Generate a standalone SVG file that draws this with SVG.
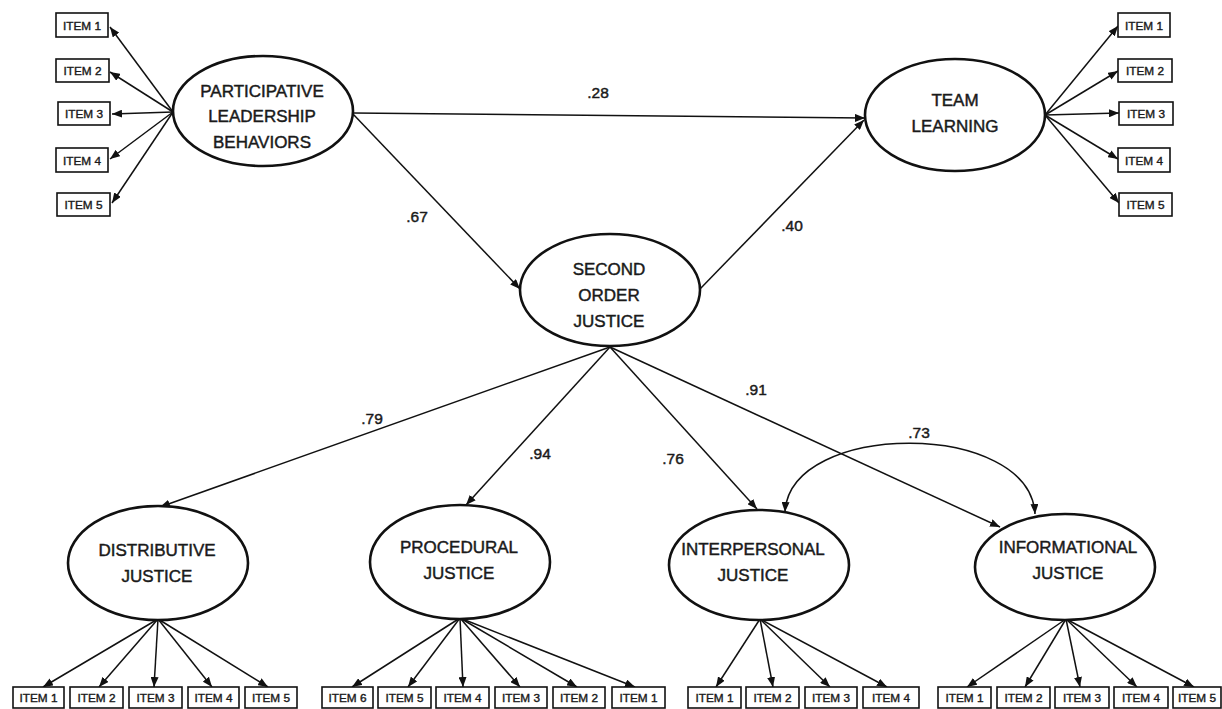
<svg xmlns="http://www.w3.org/2000/svg" width="1222" height="709" viewBox="0 0 1222 709">
<defs>
<marker id="ah" markerWidth="10" markerHeight="8" refX="10" refY="4" orient="auto" markerUnits="userSpaceOnUse"><path d="M0,0 L10,4 L0,8 z" fill="#111"/></marker>
<marker id="ah2" markerWidth="10" markerHeight="8" refX="10" refY="4" orient="auto-start-reverse" markerUnits="userSpaceOnUse"><path d="M0,0 L10,4 L0,8 z" fill="#111"/></marker>
</defs>
<style>
.lat{fill:#fff;stroke:#111;stroke-width:2.6}
.box{fill:#fff;stroke:#111;stroke-width:1.6}
.t{font-family:"Liberation Sans",Arial,sans-serif;font-size:17px;fill:#1a1a1a;stroke:#1a1a1a;stroke-width:0.45;text-anchor:middle}
.it{font-family:"Liberation Sans",Arial,sans-serif;font-size:11.8px;fill:#1a1a1a;stroke:#1a1a1a;stroke-width:0.4;text-anchor:middle}
.lb{font-family:"Liberation Sans",Arial,sans-serif;font-size:15.5px;fill:#1a1a1a;stroke:#1a1a1a;stroke-width:0.45;text-anchor:middle}
.c{fill:none;stroke:#111;stroke-width:1.5;marker-end:url(#ah)}
.cc{fill:none;stroke:#111;stroke-width:1.5;marker-start:url(#ah2);marker-end:url(#ah2)}
</style>
<rect width="1222" height="709" fill="#fff"/>

<g id="connectors">
<path class="c" d="M173 112 L110 27"/>
<path class="c" d="M173 112 L110 72"/>
<path class="c" d="M173 112 L112 114"/>
<path class="c" d="M173 112 L110 159"/>
<path class="c" d="M173 112 L112 203"/>
<path class="c" d="M1045 115 L1118 26"/>
<path class="c" d="M1045 115 L1118 71"/>
<path class="c" d="M1045 115 L1119 113"/>
<path class="c" d="M1045 115 L1118 159"/>
<path class="c" d="M1045 115 L1119 203"/>
<path class="c" d="M353 113 L865 118"/>
<path class="c" d="M353 114 L520 289"/>
<path class="c" d="M700 289 L864 120"/>
<path class="c" d="M610 347 L160 507"/>
<path class="c" d="M610 347 L466 505"/>
<path class="c" d="M610 347 L757 509"/>
<path class="c" d="M610 347 L1000 527"/>
<path class="cc" d="M785 512 C790 420 1030 420 1035 514"/>
<path class="c" d="M158 619 L43 687"/>
<path class="c" d="M158 619 L99 687"/>
<path class="c" d="M158 619 L154 687"/>
<path class="c" d="M158 619 L212 687"/>
<path class="c" d="M158 619 L268 687"/>
<path class="c" d="M460 618 L352 687"/>
<path class="c" d="M460 618 L408 687"/>
<path class="c" d="M460 618 L463 687"/>
<path class="c" d="M460 618 L520 687"/>
<path class="c" d="M460 618 L577 687"/>
<path class="c" d="M460 618 L635 687"/>
<path class="c" d="M760 619 L716 687"/>
<path class="c" d="M760 619 L773 687"/>
<path class="c" d="M760 619 L830 687"/>
<path class="c" d="M760 619 L887 687"/>
<path class="c" d="M1066 619 L967 687"/>
<path class="c" d="M1066 619 L1025 687"/>
<path class="c" d="M1066 619 L1080 687"/>
<path class="c" d="M1066 619 L1137 687"/>
<path class="c" d="M1066 619 L1194 687"/>
</g>

<g id="labels">
<text class="lb" x="598" y="98">.28</text>
<text class="lb" x="417" y="222">.67</text>
<text class="lb" x="792" y="231">.40</text>
<text class="lb" x="372" y="424">.79</text>
<text class="lb" x="540" y="459">.94</text>
<text class="lb" x="673" y="464">.76</text>
<text class="lb" x="756" y="395">.91</text>
<text class="lb" x="919" y="438">.73</text>
</g>

<g id="plb"><ellipse class="lat" cx="263" cy="111" rx="90" ry="55"/>
<text class="t" x="262" y="97">PARTICIPATIVE</text><text class="t" x="262" y="122">LEADERSHIP</text><text class="t" x="262" y="148">BEHAVIORS</text></g>
<g id="tl"><ellipse class="lat" cx="955" cy="115" rx="90" ry="56"/>
<text class="t" x="955" y="106">TEAM</text><text class="t" x="955" y="132">LEARNING</text></g>
<g id="soj"><ellipse class="lat" cx="610" cy="290" rx="90" ry="56"/>
<text class="t" x="609" y="275">SECOND</text><text class="t" x="609" y="301">ORDER</text><text class="t" x="609" y="327">JUSTICE</text></g>
<g id="dj"><ellipse class="lat" cx="158" cy="563" rx="90" ry="57"/>
<text class="t" x="157" y="556">DISTRIBUTIVE</text><text class="t" x="157" y="582">JUSTICE</text></g>
<g id="pj"><ellipse class="lat" cx="460" cy="562" rx="90" ry="57"/>
<text class="t" x="459" y="553">PROCEDURAL</text><text class="t" x="459" y="579">JUSTICE</text></g>
<g id="ipj"><ellipse class="lat" cx="759" cy="565" rx="90" ry="55"/>
<text class="t" x="753" y="555">INTERPERSONAL</text><text class="t" x="753" y="581">JUSTICE</text></g>
<g id="ifj"><ellipse class="lat" cx="1065" cy="567" rx="90" ry="53"/>
<text class="t" x="1068" y="553">INFORMATIONAL</text><text class="t" x="1068" y="579">JUSTICE</text></g>

<g id="plb-i1"><rect class="box" x="56" y="13" width="52" height="24"/><text class="it" x="82" y="29.5">ITEM 1</text></g>
<g id="plb-i2"><rect class="box" x="56" y="59" width="53" height="23"/><text class="it" x="82.5" y="75">ITEM 2</text></g>
<g id="plb-i3"><rect class="box" x="58" y="102" width="52" height="23"/><text class="it" x="84" y="118">ITEM 3</text></g>
<g id="plb-i4"><rect class="box" x="56" y="148" width="52" height="24"/><text class="it" x="82" y="164.5">ITEM 4</text></g>
<g id="plb-i5"><rect class="box" x="57" y="193" width="53" height="23"/><text class="it" x="83.5" y="209">ITEM 5</text></g>

<g id="tl-i1"><rect class="box" x="1118" y="13" width="52" height="24"/><text class="it" x="1144" y="29.5">ITEM 1</text></g>
<g id="tl-i2"><rect class="box" x="1118" y="59" width="54" height="23"/><text class="it" x="1145" y="75">ITEM 2</text></g>
<g id="tl-i3"><rect class="box" x="1119" y="102" width="54" height="23"/><text class="it" x="1146" y="118">ITEM 3</text></g>
<g id="tl-i4"><rect class="box" x="1118" y="148" width="52" height="24"/><text class="it" x="1144" y="164.5">ITEM 4</text></g>
<g id="tl-i5"><rect class="box" x="1119" y="193" width="53" height="23"/><text class="it" x="1145.5" y="209">ITEM 5</text></g>

<g id="dj-i1"><rect class="box" x="13" y="687" width="51" height="21"/><text class="it" x="38.5" y="702">ITEM 1</text></g>
<g id="dj-i2"><rect class="box" x="70" y="687" width="53" height="21"/><text class="it" x="96.5" y="702">ITEM 2</text></g>
<g id="dj-i3"><rect class="box" x="129" y="687" width="53" height="21"/><text class="it" x="155.5" y="702">ITEM 3</text></g>
<g id="dj-i4"><rect class="box" x="188" y="687" width="51" height="21"/><text class="it" x="213.5" y="702">ITEM 4</text></g>
<g id="dj-i5"><rect class="box" x="245" y="687" width="52" height="21"/><text class="it" x="271" y="702">ITEM 5</text></g>

<g id="pj-i6"><rect class="box" x="322" y="687" width="51" height="21"/><text class="it" x="347.5" y="702">ITEM 6</text></g>
<g id="pj-i5"><rect class="box" x="378" y="687" width="53" height="21"/><text class="it" x="404.5" y="702">ITEM 5</text></g>
<g id="pj-i4"><rect class="box" x="436" y="687" width="53" height="21"/><text class="it" x="462.5" y="702">ITEM 4</text></g>
<g id="pj-i3"><rect class="box" x="495" y="687" width="52" height="21"/><text class="it" x="521" y="702">ITEM 3</text></g>
<g id="pj-i2"><rect class="box" x="553" y="687" width="52" height="21"/><text class="it" x="579" y="702">ITEM 2</text></g>
<g id="pj-i1"><rect class="box" x="612" y="687" width="53" height="21"/><text class="it" x="638.5" y="702">ITEM 1</text></g>

<g id="ipj-i1"><rect class="box" x="688" y="687" width="53" height="21"/><text class="it" x="714.5" y="702">ITEM 1</text></g>
<g id="ipj-i2"><rect class="box" x="746" y="687" width="53" height="21"/><text class="it" x="772.5" y="702">ITEM 2</text></g>
<g id="ipj-i3"><rect class="box" x="805" y="687" width="52" height="21"/><text class="it" x="831" y="702">ITEM 3</text></g>
<g id="ipj-i4"><rect class="box" x="863" y="687" width="56" height="21"/><text class="it" x="891" y="702">ITEM 4</text></g>

<g id="ifj-i1"><rect class="box" x="938" y="687" width="53" height="21"/><text class="it" x="964.5" y="702">ITEM 1</text></g>
<g id="ifj-i2"><rect class="box" x="997" y="687" width="53" height="21"/><text class="it" x="1023.5" y="702">ITEM 2</text></g>
<g id="ifj-i3"><rect class="box" x="1055" y="687" width="54" height="21"/><text class="it" x="1082" y="702">ITEM 3</text></g>
<g id="ifj-i4"><rect class="box" x="1114" y="687" width="54" height="21"/><text class="it" x="1141" y="702">ITEM 4</text></g>
<g id="ifj-i5"><rect class="box" x="1173" y="687" width="48" height="21"/><text class="it" x="1197" y="702">ITEM 5</text></g>
</svg>
